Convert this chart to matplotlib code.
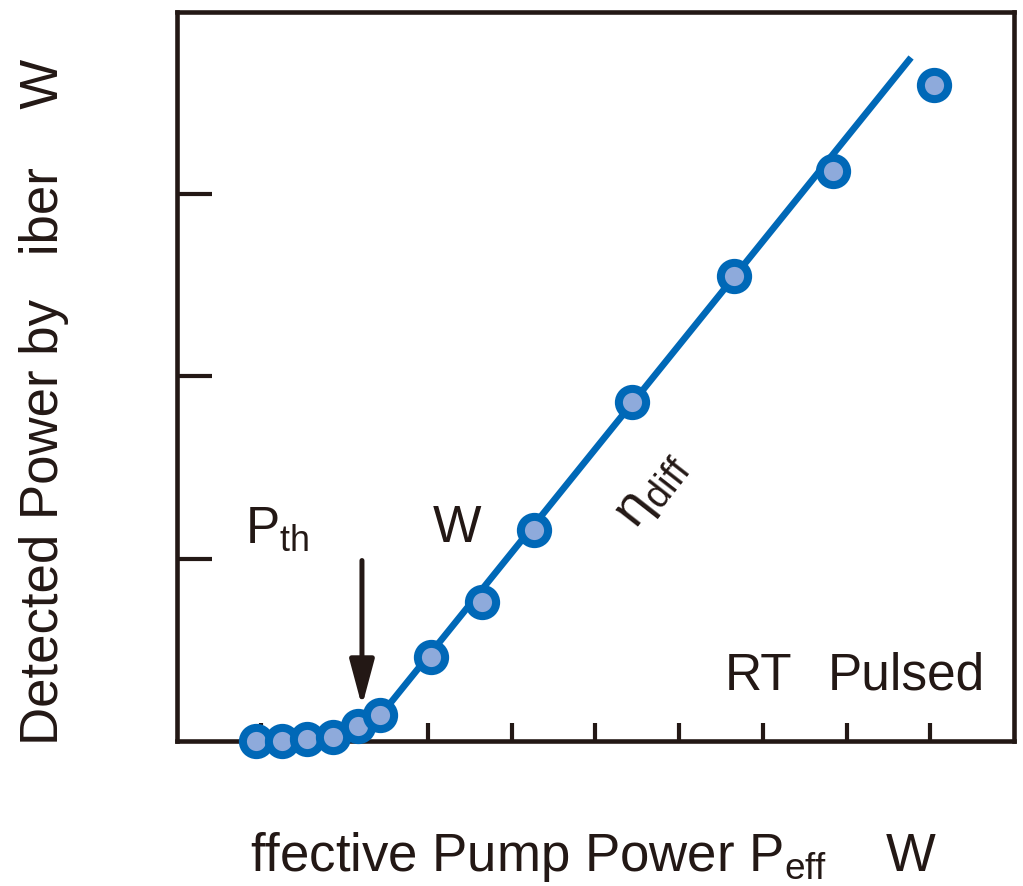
import matplotlib
matplotlib.use("Agg")
import matplotlib.pyplot as plt

# measured output vs effective pump power (RT, pulsed)
pump_power = [0.95, 1.25, 1.55, 1.86, 2.16, 2.43, 3.03, 3.65, 4.26, 5.44, 6.66, 7.84, 9.05]
detected_power = [0.0, 0.0, 0.01, 0.02, 0.08, 0.14, 0.46, 0.76, 1.16, 1.86, 2.55, 3.13, 3.60]

# linear fit above threshold
fit_x = [2.43, 8.77]
fit_y = [0.14, 3.75]

x_ticks = [1, 2, 3, 4, 5, 6, 7, 8, 9]
y_ticks = [1, 2, 3]

blue = "#0068b7"
light_blue = "#8eaadb"
ink = "#231815"

plt.rcParams["font.family"] = ["Liberation Sans", "DejaVu Sans"]
plt.rcParams["mathtext.fontset"] = "custom"
plt.rcParams["mathtext.rm"] = "Liberation Sans"
plt.rcParams["mathtext.it"] = "Liberation Sans"

fig = plt.figure(figsize=(10.23, 8.86), dpi=100)
ax = fig.add_axes([0.1730, 0.1637, 0.8182, 0.8228])

ax.plot(fit_x, fit_y, color=blue, lw=4.8, solid_capstyle="butt", zorder=2)
ax.plot(pump_power, detected_power, linestyle="none", marker="o", ms=19.6,
        mew=5.8, mec=blue, mfc=light_blue, zorder=3, clip_on=False)

ax.set_xlim(0, 10)
ax.set_ylim(0, 4)
ax.set_xticks(x_ticks)
ax.set_yticks(y_ticks)
ax.set_xticklabels([])
ax.set_yticklabels([])
ax.tick_params(axis="x", direction="in", length=13, width=3, color=ink)
ax.tick_params(axis="y", direction="in", length=25, width=3, color=ink)
for sp in ax.spines.values():
    sp.set_linewidth(3.3)
    sp.set_color(ink)

# threshold arrow
ax.annotate("", xy=(2.21, 0.19), xytext=(2.21, 0.99),
            arrowprops=dict(arrowstyle="-|>,head_length=2.8,head_width=0.75",
                            mutation_scale=10, lw=3.6, color=ink,
                            shrinkA=0, shrinkB=0))

fs = 37
ax.text(0.81, 1.09, r"P$_\mathregular{th}$", fontsize=fs, color=ink)
ax.text(3.05, 1.09, "W", fontsize=fs, color=ink)
ax.text(5.48, 1.16, r"η$_\mathregular{diff}$", fontsize=fs + 2, color=ink,
        rotation=52, rotation_mode="anchor")
ax.text(6.54, 0.28, "RT", fontsize=fs, color=ink)
ax.text(7.77, 0.28, "Pulsed", fontsize=fs, color=ink)

fig.text(44 / 1023, 1 - 745 / 886, "Detected Power by   iber    W",
         rotation=90, fontsize=38, color=ink, ha="center", va="bottom")
fig.text(250 / 1023, 1 - 871 / 886, r"ffective Pump Power P$_\mathregular{eff}$    W",
         fontsize=38, color=ink, ha="left", va="baseline")

fig.savefig("out.png", dpi=100)
